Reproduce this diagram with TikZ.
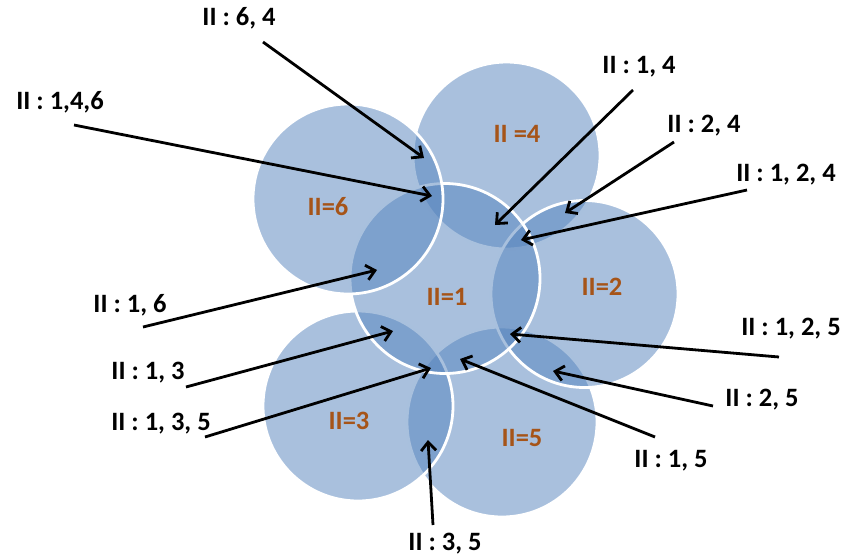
\documentclass[tikz,border=0pt]{standalone}
\usepackage{fontspec}
\newfontfamily\carlito{Carlito}
\usetikzlibrary{arrows.meta}
\definecolor{discblue}{RGB}{83,130,188}
\definecolor{labbrown}{RGB}{166,84,24}
\tikzset{
  disc/.style={circle, fill=discblue, fill opacity=0.5, draw=white, draw opacity=1, line width=2.8pt, inner sep=0pt, outer sep=0pt},
  lab/.style={font=\carlito\bfseries\fontsize{26.5}{30}\selectfont, text=black, inner sep=0pt},
  setlab/.style={font=\carlito\bfseries\fontsize{26.5}{30}\selectfont, text=labbrown, inner sep=0pt},
  arr/.style={-{Straight Barb[length=8.5pt,width=15pt,line width=2.8pt]}, line width=2.8pt, black}
}
\begin{document}
\begin{tikzpicture}[x=1pt,y=-1pt]
\useasboundingbox (0,0) rectangle (848,558);
% circles (drawing order matters)
\node[disc, minimum size=187pt] (c4) at (506.5,155.5) {};
\node[disc, minimum size=190pt] (c5) at (502,422) {};
\node[disc, minimum size=187pt] (c2) at (584.5,294) {};
\node[disc, minimum size=190pt] (c3) at (358,406) {};
\node[disc, minimum size=190pt] (c1) at (445,278.5) {};
\node[disc, minimum size=190pt] (c6) at (348,199) {};
% set labels
\node[setlab] (l6) at (328,207) {II=6};
\node[setlab] (l4) at (517,134) {II =4};
\node[setlab] (l1) at (447,297) {II=1};
\node[setlab] (l2) at (602,287) {II=2};
\node[setlab] (l3) at (349,421) {II=3};
\node[setlab] (l5) at (522,438) {II=5};
% region labels
\node[lab] (t64) at (239,18) {II : 6, 4};
\node[lab] (t146) at (60,102) {II : 1,4,6};
\node[lab] (t14) at (639,67) {II : 1, 4};
\node[lab] (t24) at (704,126) {II : 2, 4};
\node[lab] (t124) at (786,175) {II : 1, 2, 4};
\node[lab] (t16) at (130,305) {II : 1, 6};
\node[lab] (t13) at (148,373) {II : 1, 3};
\node[lab] (t135) at (161,424) {II : 1, 3, 5};
\node[lab] (t125) at (791,329) {II : 1, 2, 5};
\node[lab] (t25) at (762,400) {II : 2, 5};
\node[lab] (t15) at (671,461) {II : 1, 5};
\node[lab] (t35) at (445,544) {II : 3, 5};
% arrow ends
\coordinate (s64) at (263,42);   \coordinate (e64) at (424,158);
\coordinate (s146) at (74,125);  \coordinate (e146) at (432,196);
\coordinate (s14) at (633,90);   \coordinate (e14) at (495,225);
\coordinate (s24) at (674,142);  \coordinate (e24) at (565,213);
\coordinate (s124) at (747,190); \coordinate (e124) at (521,240);
\coordinate (s16) at (143,327);  \coordinate (e16) at (377,270);
\coordinate (s13) at (186,387);  \coordinate (e13) at (393,331);
\coordinate (s135) at (205,437); \coordinate (e135) at (431,368);
\coordinate (s125) at (779,357); \coordinate (e125) at (510,334);
\coordinate (s25) at (713,406);  \coordinate (e25) at (553,371);
\coordinate (s15) at (655,437);  \coordinate (e15) at (460,359);
\coordinate (s35) at (433,525);  \coordinate (e35) at (428,440);
\foreach \k in {64,146,14,24,124,16,13,135,125,25,15,35}
  \draw[arr] (s\k) -- (e\k);
\end{tikzpicture}
\end{document}
